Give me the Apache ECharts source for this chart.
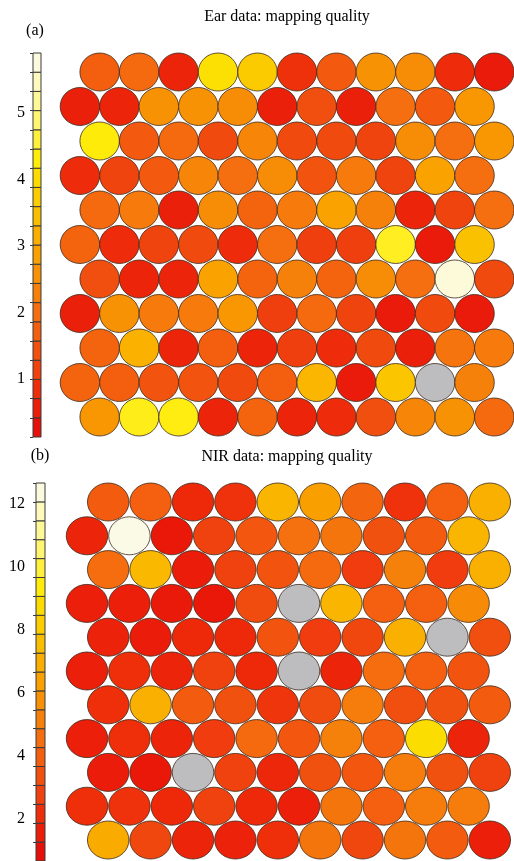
<!DOCTYPE html>
<html>
<head>
<meta charset="utf-8">
<script src="https://cdn.jsdelivr.net/npm/echarts@6/dist/echarts.min.js"></script>
<style>html,body{margin:0;padding:0;background:#fff;}#c{width:514px;height:861px;}</style>
</head>
<body>
<div id="c"></div>
<script>
// ---- Data: SOM mapping quality, rows top to bottom (null = empty unit) ----
const earRows = [
  [1.7, 1.9, 0.7, 4.1, 3.7, 0.9, 1.6, 2.6, 2.5, 0.8, 0.5],
  [0.6, 0.7, 2.6, 2.6, 2.5, 0.6, 1.4, 0.6, 2.0, 1.6, 2.7],
  [4.3, 1.6, 1.9, 1.3, 2.4, 1.3, 1.3, 1.2, 2.5, 2.0, 2.7],
  [0.8, 1.2, 1.6, 2.4, 2.0, 2.5, 1.5, 2.2, 1.2, 2.9, 2.0],
  [1.9, 2.2, 0.6, 2.5, 1.8, 2.2, 2.9, 2.3, 0.7, 1.2, 2.0],
  [1.8, 0.8, 1.2, 1.3, 0.8, 2.0, 1.1, 1.1, 4.45, 0.5, 3.5],
  [1.4, 0.7, 0.7, 2.9, 1.8, 2.3, 1.8, 2.5, 2.0, 5.7, 1.3],
  [0.6, 2.6, 2.2, 2.2, 2.7, 1.1, 1.9, 1.2, 0.5, 1.3, 0.5],
  [1.8, 3.2, 0.7, 1.7, 0.7, 1.1, 0.8, 1.3, 0.6, 2.1, 2.2],
  [1.8, 1.7, 1.5, 1.5, 1.3, 1.7, 3.3, 0.5, 3.6, null, 2.3],
  [2.7, 4.4, 4.35, 0.7, 1.8, 0.7, 0.8, 1.4, 2.4, 2.6, 1.9]
];
const nirRows = [
  [3.8, 4.0, 2.0, 2.3, 7.2, 6.3, 4.2, 2.3, 4.0, 7.0],
  [1.8, 12.5, 1.3, 2.8, 3.6, 4.6, 4.8, 3.4, 3.8, 7.2],
  [4.5, 7.3, 1.5, 2.8, 3.5, 4.4, 2.6, 5.2, 2.6, 7.0],
  [1.6, 1.6, 1.4, 1.3, 3.2, null, 7.2, 4.0, 4.0, 5.5],
  [1.7, 1.5, 2.0, 2.0, 3.5, 2.6, 3.0, 7.0, null, 3.3],
  [1.6, 2.2, 1.8, 2.8, 2.0, null, 1.8, 4.5, 4.0, 3.5],
  [2.2, 7.0, 3.8, 3.4, 2.4, 3.2, 5.0, 3.3, 3.4, 3.8],
  [1.6, 2.2, 1.8, 2.6, 4.4, 3.6, 5.2, 4.0, 8.8, 1.8],
  [1.5, 1.3, null, 2.8, 1.9, 3.4, 3.6, 5.0, 3.4, 2.8],
  [2.2, 2.3, 2.0, 2.8, 2.0, 1.6, 4.8, 4.0, 5.0, 5.0],
  [6.8, 3.0, 1.8, 1.7, 2.2, 4.8, 3.0, 4.8, 3.8, 1.6]
];
// colour-bar scales
const earBarRange = [0.125, 5.9];
const nirBarRange = [0.65, 12.65];
const barSegments = 20;
const earTickLabels = [1, 2, 3, 4, 5];
const nirTickLabels = [2, 4, 6, 8, 10, 12];

// ---- colour map (red -> orange -> yellow -> cream) ----
const stops = [
  [0.000, [228, 8, 8]],
  [0.075, [235, 30, 10]],
  [0.125, [238, 45, 10]],
  [0.175, [240, 65, 15]],
  [0.225, [241, 80, 15]],
  [0.275, [244, 95, 15]],
  [0.325, [245, 110, 15]],
  [0.375, [246, 128, 10]],
  [0.425, [248, 145, 5]],
  [0.475, [250, 160, 0]],
  [0.525, [250, 175, 0]],
  [0.575, [250, 190, 0]],
  [0.625, [251, 205, 0]],
  [0.675, [252, 220, 0]],
  [0.725, [255, 236, 10]],
  [0.775, [255, 240, 60]],
  [0.825, [255, 245, 110]],
  [0.875, [255, 248, 150]],
  [0.925, [254, 250, 190]],
  [1.000, [250, 250, 238]]
];
function cmap(f) {
  f = Math.max(0, Math.min(1, f));
  for (let i = 1; i < stops.length; i++) {
    if (f <= stops[i][0]) {
      const a = stops[i - 1], b = stops[i];
      const t = (f - a[0]) / (b[0] - a[0]);
      const c = a[1].map((v, k) => Math.round(v + (b[1][k] - v) * t));
      return 'rgb(' + c.join(',') + ')';
    }
  }
  return 'rgb(250,250,238)';
}
function colorFor(v, range) {
  if (v === null || v === undefined) return '#bdbdc0';
  return cmap((v - range[0]) / (range[1] - range[0]));
}

function hexData(rows) {
  const out = [];
  rows.forEach((row, r) => {
    const shift = (r % 2 === 0) ? 0.5 : 0;
    row.forEach((v, c) => out.push([c + shift, r, v]));
  });
  return out;
}
function barData(range) {
  const out = [];
  const step = (range[1] - range[0]) / barSegments;
  for (let i = 0; i < barSegments; i++) out.push([range[0] + i * step, range[0] + (i + 1) * step]);
  return out;
}
function barEdges(range) {
  const out = [];
  const step = (range[1] - range[0]) / barSegments;
  for (let i = 0; i <= barSegments; i++) out.push(range[0] + i * step);
  return out;
}

const ellipse = 'path://M0,1 A1,1 0 1,1 2,1 A1,1 0 1,1 0,1 Z';
const serif = 'Liberation Serif';

function barSeries(idx, range) {
  return {
    type: 'custom', xAxisIndex: idx, yAxisIndex: idx,
    data: barData(range),
    renderItem: function (params, api) {
      const p0 = api.coord([0, api.value(0)]);
      const p1 = api.coord([1, api.value(1)]);
      const mid = (api.value(0) + api.value(1)) / 2;
      return {
        type: 'rect',
        shape: { x: p0[0], y: p1[1], width: p1[0] - p0[0], height: p0[1] - p1[1] },
        style: { fill: colorFor(mid, range), stroke: '#3a3a3a', lineWidth: 1 }
      };
    },
    silent: true
  };
}

const chart = echarts.init(document.getElementById('c'), null, { renderer: 'canvas' });
const option = {
  backgroundColor: '#ffffff',
  animation: false,
  graphic: [
    { type: 'text', x: 287, y: 17, style: { text: 'Ear data: mapping quality', font: '16px "' + serif + '"', fill: '#000', align: 'center', verticalAlign: 'middle' } },
    { type: 'text', x: 35, y: 31, style: { text: '(a)', font: '16px "' + serif + '"', fill: '#000', align: 'center', verticalAlign: 'middle' } },
    { type: 'text', x: 287, y: 457, style: { text: 'NIR data: mapping quality', font: '16px "' + serif + '"', fill: '#000', align: 'center', verticalAlign: 'middle' } },
    { type: 'text', x: 40, y: 456, style: { text: '(b)', font: '16px "' + serif + '"', fill: '#000', align: 'center', verticalAlign: 'middle' } }
  ],
  grid: [
    { left: 60.2, top: 54.75, width: 455.4, height: 379.5 },
    { left: 65.8, top: 485.1, width: 445.2, height: 371.8 },
    { left: 33, top: 53, width: 8, height: 384 },
    { left: 36, top: 483, width: 9, height: 384 }
  ],
  xAxis: [
    { type: 'value', gridIndex: 0, min: -0.5, max: 11, show: false },
    { type: 'value', gridIndex: 1, min: -0.5, max: 10, show: false },
    { type: 'value', gridIndex: 2, min: 0, max: 1, show: false },
    { type: 'value', gridIndex: 3, min: 0, max: 1, show: false }
  ],
  yAxis: [
    { type: 'value', gridIndex: 0, min: -0.5, max: 10.5, inverse: true, show: false },
    { type: 'value', gridIndex: 1, min: -0.5, max: 10.5, inverse: true, show: false },
    {
      type: 'value', gridIndex: 2, min: earBarRange[0], max: earBarRange[1], position: 'left',
      splitLine: { show: false }, axisLine: { show: false },
      axisTick: { show: true, length: 3, customValues: barEdges(earBarRange), lineStyle: { color: '#3a3a3a' } },
      axisLabel: { customValues: earTickLabels, margin: 8, fontFamily: serif, fontSize: 16, color: '#000' }
    },
    {
      type: 'value', gridIndex: 3, min: nirBarRange[0], max: nirBarRange[1], position: 'left',
      splitLine: { show: false }, axisLine: { show: false },
      axisTick: { show: true, length: 3, customValues: barEdges(nirBarRange), lineStyle: { color: '#3a3a3a' } },
      axisLabel: { customValues: nirTickLabels, margin: 11, fontFamily: serif, fontSize: 16, color: '#000' }
    }
  ],
  series: [
    {
      type: 'scatter', xAxisIndex: 0, yAxisIndex: 0, data: hexData(earRows),
      symbol: ellipse, symbolSize: [39.5, 38], clip: false,
      itemStyle: { opacity: 1, borderColor: '#3e2a1c', borderWidth: 0.8,
        color: p => colorFor(p.value[2], earBarRange) }
    },
    {
      type: 'scatter', xAxisIndex: 1, yAxisIndex: 1, data: hexData(nirRows),
      symbol: ellipse, symbolSize: [41.5, 38], clip: false,
      itemStyle: { opacity: 1, borderColor: '#3e2a1c', borderWidth: 0.8,
        color: p => colorFor(p.value[2], nirBarRange) }
    },
    barSeries(2, earBarRange),
    barSeries(3, nirBarRange)
  ]
};
chart.setOption(option);
</script>
</body>
</html>
